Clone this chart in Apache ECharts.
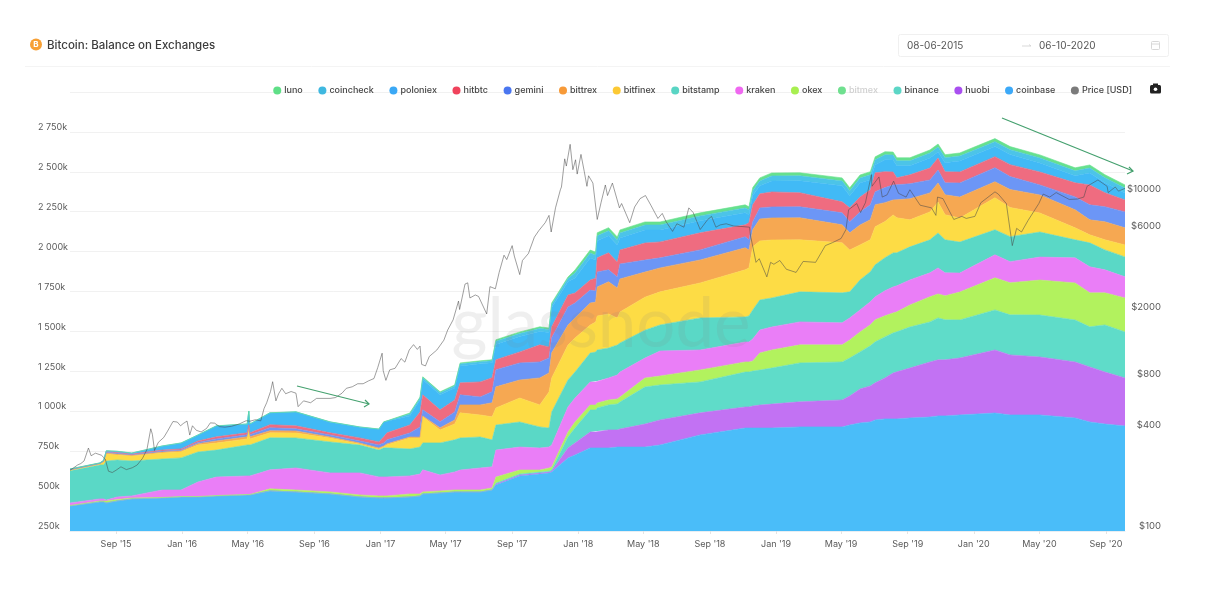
<!DOCTYPE html>
<html><head><meta charset="utf-8">
<script src="https://cdn.jsdelivr.net/npm/echarts@6/dist/echarts.min.js"></script>
<style>html,body{margin:0;padding:0;background:#fff}#c{width:1216px;height:589px}</style></head>
<body><div id="c"></div>
<script>
const dates=['2015-06-08','2015-08-02','2015-08-09','2015-08-14','2015-09-03','2015-09-30','2015-11-25','2015-12-30','2016-01-30','2016-03-04','2016-04-30','2016-05-03','2016-05-05','2016-06-11','2016-07-29','2016-09-30','2016-11-24','2016-12-29','2017-01-07','2017-01-13','2017-02-24','2017-03-15','2017-03-20','2017-04-21','2017-05-18','2017-05-28','2017-07-04','2017-07-26','2017-08-02','2017-09-15','2017-10-22','2017-11-08','2017-11-13','2017-12-13','2017-12-26','2018-01-23','2018-02-02','2018-02-05','2018-02-26','2018-03-14','2018-03-19','2018-05-04','2018-06-01','2018-08-14','2018-11-05','2018-11-12','2018-11-19','2018-12-02','2018-12-24','2019-02-14','2019-05-03','2019-05-17','2019-06-05','2019-06-24','2019-07-03','2019-07-21','2019-08-05','2019-08-12','2019-09-05','2019-10-12','2019-10-27','2019-11-09','2019-12-06','2020-02-09','2020-03-08','2020-05-02','2020-07-06','2020-08-02','2020-08-30','2020-10-06'];
const coinbase=[407,432,432,425,438,451,457,463,463,469,476,476,476,501,494,482,463,457,457,457,463,469,482,488,494,494,494,507,538,595,607,613,620,707,726,770,770,770,770,776,776,776,789,852,895,895,895,895,895,902,902,914,927,933,946,952,952,952,958,964,971,971,977,989,977,977,958,933,920,908];
const huobi=[0,0,0,0,0,0,0,0,0,0,0,0,0,0,0,0,0,0,0,0,0,0,0,0,0,0,0,0,6,6,6,6,6,63,75,100,100,107,113,107,113,144,157,138,132,132,138,144,150,157,169,182,213,226,232,257,288,295,313,345,351,351,357,395,376,363,351,345,326,301];
const binance=[0,0,0,0,0,0,0,0,0,0,0,0,0,0,0,0,0,0,0,0,0,0,0,0,0,0,0,0,6,6,6,6,6,69,94,138,138,144,157,163,169,232,219,194,219,219,219,219,226,244,238,238,232,251,257,257,251,251,257,251,263,251,238,251,251,263,263,251,295,288];
const okex=[3,6,6,13,9,6,3,3,3,3,3,3,3,13,13,13,13,13,13,13,19,13,13,13,13,13,13,13,38,25,13,19,19,31,38,31,31,31,31,31,31,56,56,75,63,63,63,107,113,113,107,113,125,132,138,132,125,125,138,157,150,150,175,201,201,219,232,213,201,213];
const kraken=[16,13,13,6,16,13,47,41,91,116,116,116,116,119,138,119,138,119,119,119,113,125,138,100,113,125,138,132,169,144,138,132,138,157,150,144,144,138,138,150,157,125,157,125,125,125,138,144,144,144,138,138,138,144,144,157,163,163,157,150,163,144,119,144,132,144,157,163,144,132];
const bitstamp=[201,213,213,244,232,219,194,201,188,169,194,194,194,201,188,194,175,169,182,182,169,169,169,201,201,201,194,169,157,157,132,119,207,169,163,182,188,194,188,188,182,175,163,201,157,163,182,188,182,188,188,163,188,188,201,207,213,207,207,207,219,207,194,157,157,157,113,150,125,125];
const bitfinex=[3,6,19,44,31,31,38,38,44,44,38,107,38,31,31,25,6,6,6,19,69,56,163,81,100,157,138,144,107,150,138,226,213,219,213,175,188,213,213,169,194,207,207,219,295,301,395,370,363,326,313,263,219,201,238,226,238,219,169,175,194,157,150,201,182,119,75,50,63,75];
const bittrex=[3,2,2,6,6,4,6,6,8,13,13,6,13,13,13,6,6,6,6,6,6,6,6,13,25,50,63,88,132,113,169,119,157,125,125,138,125,182,201,188,207,157,150,144,138,113,107,138,138,138,113,107,125,125,138,119,94,113,132,119,119,125,132,100,113,113,113,94,113,107];
const gemini=[1,1,2,6,6,4,6,6,8,13,13,6,13,19,13,13,13,19,19,25,25,63,38,38,50,63,50,69,107,107,100,94,94,113,94,81,69,94,75,69,94,75,63,63,69,63,50,69,69,69,75,69,81,94,81,94,94,94,94,81,81,75,88,88,81,63,81,94,94,100];
const hitbtc=[2,1,2,6,6,4,6,6,9,13,12,6,12,19,19,13,19,19,38,44,50,94,94,75,75,75,94,88,63,69,107,69,69,75,63,63,81,88,107,94,88,107,100,107,75,107,107,88,94,88,69,88,94,94,119,100,81,44,56,75,75,69,69,69,75,81,88,125,88,75];
const poloniex=[1,1,2,1,4,5,24,36,36,67,54,86,54,73,86,67,67,79,92,73,56,75,94,94,75,106,113,94,96,96,84,90,121,84,94,138,113,107,107,107,75,82,75,75,75,50,57,50,69,75,100,75,88,63,50,75,75,75,57,63,38,57,69,63,63,57,44,75,63,44];
const coincheck=[1,1,1,1,1,1,1,1,1,1,1,1,1,1,1,1,1,1,1,1,13,13,13,13,13,13,13,13,19,19,19,19,19,19,31,31,31,31,31,31,31,31,31,31,31,31,31,31,31,31,31,31,31,31,31,31,31,31,31,31,31,31,31,31,31,31,31,31,31,31];
const luno=[1,1,1,1,1,1,1,1,1,1,1,1,1,1,1,1,1,1,1,1,6,6,6,6,6,6,6,6,10,10,10,10,10,10,19,19,19,19,19,19,19,19,19,19,19,19,19,19,19,19,19,19,19,19,19,19,19,19,19,19,19,19,19,19,19,19,19,19,19,19];
const priceDates=['2015-06-08','2015-06-15','2015-06-22','2015-06-28','2015-07-04','2015-07-12','2015-07-17','2015-07-25','2015-08-05','2015-08-12','2015-08-18','2015-08-25','2015-09-01','2015-09-10','2015-09-20','2015-10-01','2015-10-10','2015-10-20','2015-10-28','2015-11-04','2015-11-07','2015-11-11','2015-11-18','2015-11-28','2015-12-05','2015-12-15','2015-12-23','2015-12-29','2016-01-03','2016-01-10','2016-01-15','2016-01-20','2016-01-27','2016-02-05','2016-02-15','2016-02-22','2016-03-01','2016-03-10','2016-03-20','2016-04-01','2016-04-15','2016-04-28','2016-05-05','2016-05-15','2016-05-25','2016-05-31','2016-06-05','2016-06-12','2016-06-16','2016-06-22','2016-06-27','2016-07-03','2016-07-10','2016-07-20','2016-07-29','2016-08-02','2016-08-12','2016-08-25','2016-09-05','2016-09-15','2016-09-30','2016-10-10','2016-10-22','2016-10-30','2016-11-10','2016-11-20','2016-11-30','2016-12-10','2016-12-20','2016-12-27','2017-01-04','2017-01-06','2017-01-11','2017-01-18','2017-01-28','2017-02-08','2017-02-15','2017-02-23','2017-03-03','2017-03-10','2017-03-15','2017-03-18','2017-03-25','2017-04-01','2017-04-15','2017-04-28','2017-05-05','2017-05-15','2017-05-25','2017-05-27','2017-06-06','2017-06-11','2017-06-15','2017-06-25','2017-07-01','2017-07-16','2017-07-22','2017-08-01','2017-08-08','2017-08-17','2017-08-22','2017-09-01','2017-09-05','2017-09-15','2017-09-20','2017-10-01','2017-10-12','2017-10-20','2017-11-01','2017-11-08','2017-11-12','2017-11-20','2017-11-29','2017-12-01','2017-12-07','2017-12-10','2017-12-17','2017-12-22','2017-12-27','2017-12-30','2018-01-06','2018-01-12','2018-01-17','2018-01-20','2018-01-28','2018-02-05','2018-02-12','2018-02-20','2018-02-24','2018-03-05','2018-03-18','2018-03-22','2018-04-06','2018-04-15','2018-04-25','2018-05-05','2018-05-15','2018-05-28','2018-06-05','2018-06-12','2018-06-24','2018-07-02','2018-07-15','2018-07-24','2018-08-01','2018-08-14','2018-08-28','2018-09-04','2018-09-12','2018-09-20','2018-10-01','2018-10-15','2018-11-01','2018-11-13','2018-11-15','2018-11-25','2018-12-01','2018-12-15','2018-12-22','2018-12-28','2019-01-08','2019-01-20','2019-02-07','2019-02-20','2019-03-15','2019-04-02','2019-04-15','2019-05-01','2019-05-10','2019-05-15','2019-05-30','2019-06-06','2019-06-15','2019-06-26','2019-06-27','2019-07-10','2019-07-16','2019-07-25','2019-08-06','2019-08-15','2019-08-29','2019-09-05','2019-09-24','2019-10-15','2019-10-23','2019-10-26','2019-11-05','2019-11-25','2019-12-10','2019-12-18','2020-01-03','2020-01-14','2020-02-09','2020-02-15','2020-03-01','2020-03-12','2020-03-20','2020-03-29','2020-04-10','2020-04-30','2020-05-08','2020-05-20','2020-06-01','2020-06-25','2020-07-10','2020-07-22','2020-07-28','2020-08-17','2020-09-03','2020-09-05','2020-09-18','2020-09-24','2020-10-06'];
const price=[229,237,246,251,260,310,279,289,281,267,226,222,229,240,231,237,246,270,304,403,374,300,335,358,390,445,442,420,433,448,370,420,395,386,405,437,435,415,412,417,430,450,447,456,449,530,575,670,766,590,650,700,650,670,655,545,590,575,610,610,610,617,655,700,715,745,745,775,800,930,1130,890,780,900,920,1050,1000,1180,1270,1190,1245,970,950,1080,1180,1350,1550,1780,2300,2050,2900,2950,2400,2500,2450,1930,2800,2720,3400,4300,4050,4900,4250,3300,4000,4400,5500,6000,6700,7400,5900,8200,10500,10900,16000,14500,19500,13800,15800,13000,17000,13500,11000,12700,11500,7000,8800,11200,9700,11500,8200,8700,6700,8300,9300,9700,8500,7100,7600,6800,5950,6600,6300,8200,7700,6100,7000,7300,6300,6500,6600,6400,6350,6300,5600,3900,4100,3200,3900,3800,4000,3550,3400,3950,3900,4900,5100,5400,6100,8000,8700,7700,8800,12900,11000,12500,9500,9800,11800,10000,9500,10500,8500,8200,7400,9500,9300,7000,7300,7100,7300,8800,10200,9900,8700,4900,6200,5900,6900,8700,9900,9500,10100,9200,9250,9500,11000,12000,11000,10100,10900,10300,10700];
const xTicks=['2015-09-01','2016-01-01','2016-05-01','2016-09-01','2017-01-01','2017-05-01','2017-09-01','2018-01-01','2018-05-01','2018-09-01','2019-01-01','2019-05-01','2019-09-01','2020-01-01','2020-05-01','2020-09-01'];
const priceTicks=[100,400,800,2000,6000,10000];
const legendNames=['luno','coincheck','poloniex','hitbtc','gemini','bittrex','bitfinex','bitstamp','kraken','okex','bitmex','binance','huobi','coinbase','Price [USD]'];

const ts=s=>new Date(s+'T00:00:00Z').getTime();
const months=['Jan','Feb','Mar','Apr','May','Jun','Jul','Aug','Sep','Oct','Nov','Dec'];
const stackDefs=[
 ['coinbase',coinbase,'#3ca9f8','#4abdf9'],['huobi',huobi,'#a94ff0','#c272f3'],['binance',binance,'#5cd6c6','#5fdcc9'],
 ['okex',okex,'#a8ef50','#b2f25e'],['kraken',kraken,'#ef68f0','#ea7ef7'],['bitstamp',bitstamp,'#59d5c4','#5ad8c6'],
 ['bitfinex',bitfinex,'#fcc934','#fddc45'],['bittrex',bittrex,'#f79a38','#f6a852'],['gemini',gemini,'#4a76f0','#6c96f6'],
 ['hitbtc',hitbtc,'#f0435c','#ef6c80'],['poloniex',poloniex,'#3aa8f5','#41baf6'],['coincheck',coincheck,'#3fb8e0','#4cc4e8'],
 ['luno',luno,'#5fdf87','#66e08e']];
const series=stackDefs.map(([name,vals,dot,fill])=>({
  name,type:'line',stack:'total',showSymbol:false,symbol:'none',xAxisIndex:0,yAxisIndex:0,
  data:dates.map((d,i)=>[ts(d),vals[i]]),
  itemStyle:{color:dot},lineStyle:{color:fill,width:0.6},areaStyle:{color:fill,opacity:1},
  emphasis:{disabled:true},silent:true
}));
series.push({name:'bitmex',type:'line',data:[],itemStyle:{color:'#6fe08f'},symbol:'none'});
series.push({name:'Price [USD]',type:'line',xAxisIndex:0,yAxisIndex:1,symbol:'none',showSymbol:false,z:5,
  data:priceDates.map((d,i)=>[ts(d),price[i]]),
  itemStyle:{color:'#7b7b7b'},lineStyle:{color:'rgba(70,70,70,0.75)',width:0.7},silent:true});

const font='Inter, "Noto Sans", sans-serif';
const chart=echarts.init(document.getElementById('c'),null,{renderer:'canvas'});
const green='#44a06e';
chart.setOption({
 animation:false,backgroundColor:'#fff',
 grid:{left:70,right:91,top:92,bottom:58,containLabel:false},
 legend:{top:81,right:79,itemWidth:8,itemHeight:8,itemGap:15.6,icon:'circle',selectedMode:false,
  textStyle:{fontFamily:font,fontSize:9,fontWeight:500,color:'#444',padding:[0,0,0,-2]},
  data:legendNames.map(n=>n==='bitmex'?{name:n,textStyle:{color:'#cfcfcf'}}:{name:n})},
 xAxis:[
  {type:'time',min:ts('2015-06-08'),max:ts('2020-10-06'),
   axisLine:{show:false},axisTick:{show:false},axisLabel:{show:false},splitLine:{show:false}},
  {type:'value',position:'bottom',min:ts('2015-06-08'),max:ts('2020-10-06'),scale:true,
   axisLine:{show:true,onZero:false,lineStyle:{color:'#e8eef3',width:1}},
   axisTick:{show:true,length:3,lineStyle:{color:'#e4e4e4'},customValues:xTicks.map(ts)},
   splitLine:{show:false},
   axisLabel:{customValues:xTicks.map(ts),margin:9,hideOverlap:false,color:'#5a5a5a',fontFamily:font,fontSize:9,
    formatter:v=>{const d=new Date(v);return months[d.getUTCMonth()]+" '"+String(d.getUTCFullYear()).slice(2);}}}
 ],
 yAxis:[
  {type:'value',min:250,max:3000,interval:250,
   axisLine:{show:false},axisTick:{show:false},
   splitLine:{show:true,lineStyle:{color:'#f1f1f1',width:1}},
   axisLabel:{showMaxLabel:false,align:'left',margin:32,verticalAlign:'bottom',lineHeight:9,color:'#5a5a5a',fontFamily:font,fontSize:9,
    formatter:v=>v>=1000?Math.floor(v/1000)+' '+String(v%1000).padStart(3,'0')+'k':v+'k'}},
  {type:'log',logBase:10,min:100,max:39811,position:'right',
   axisLine:{show:false},axisTick:{show:false},splitLine:{show:false},
   axisLabel:{customValues:priceTicks,align:'right',margin:36,verticalAlign:'bottom',lineHeight:9,color:'#5a5a5a',fontFamily:font,fontSize:9.5,
    formatter:v=>'$'+Math.round(v)}}
 ],
 series,
 graphic:[
  {type:'circle',shape:{cx:36,cy:44.5,r:6},style:{fill:'#f7a035'},silent:true},
  {type:'text',x:36,y:44.5,style:{text:'B',fill:'#fff',font:'bold 8px '+font,align:'center',verticalAlign:'middle'},silent:true},
  {type:'text',x:47,y:45.5,style:{text:'Bitcoin: Balance on Exchanges',fill:'#3c3c3c',font:'500 11.5px '+font,verticalAlign:'middle'},silent:true},
  {type:'line',shape:{x1:25,y1:66.5,x2:1170,y2:66.5},style:{stroke:'#f4f4f4',lineWidth:1},silent:true},
  {type:'rect',shape:{x:898.5,y:34.5,width:270,height:22,r:2},style:{fill:'#fff',stroke:'#f0f0f0',lineWidth:1},silent:true},
  {type:'text',x:907,y:45.5,style:{text:'08-06-2015',fill:'#555',font:'400 10px '+font,verticalAlign:'middle'},silent:true},
  {type:'text',x:1039,y:45.5,style:{text:'06-10-2020',fill:'#555',font:'400 10px '+font,verticalAlign:'middle'},silent:true},
  {type:'polyline',shape:{points:[[1022,46],[1031,46],[1029,44.5]]},style:{stroke:'#cfcfcf',fill:'none',lineWidth:0.8},silent:true},
  {type:'rect',shape:{x:1151.5,y:41.5,width:8,height:8,r:1},style:{fill:'#fff',stroke:'#d8d8d8',lineWidth:1},silent:true},
  {type:'line',shape:{x1:1151.5,y1:44,x2:1159.5,y2:44},style:{stroke:'#d8d8d8',lineWidth:1},silent:true},
  {type:'rect',shape:{x:1150,y:85,width:11,height:8.5,r:1.5},style:{fill:'#222'},silent:true},
  {type:'rect',shape:{x:1153,y:83.5,width:5,height:2},style:{fill:'#222'},silent:true},
  {type:'circle',shape:{cx:1155.5,cy:89.2,r:1.8},style:{fill:'#fff'},silent:true},
  {type:'text',x:601,y:325,z:50,style:{text:'glassnode',fill:'rgba(130,130,130,0.13)',font:'400 69px Lato, '+font,align:'center',verticalAlign:'middle'},silent:true},
  {type:'line',z:60,shape:{x1:297,y1:386,x2:369,y2:404},style:{stroke:green,lineWidth:1.2},silent:true},
  {type:'polyline',z:60,shape:{points:[[365,400],[369,404],[364,407]]},style:{stroke:green,fill:'none',lineWidth:1.2},silent:true},
  {type:'line',z:60,shape:{x1:1002,y1:118,x2:1133,y2:171},style:{stroke:green,lineWidth:1.2},silent:true},
  {type:'polyline',z:60,shape:{points:[[1129,167],[1133,171],[1127,174]]},style:{stroke:green,fill:'none',lineWidth:1.2},silent:true}
 ]
});
</script></body></html>
